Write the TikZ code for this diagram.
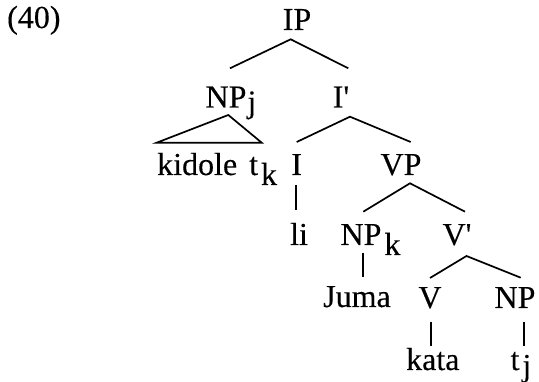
\documentclass[tikz,border=0pt]{standalone}
\usepackage{fontspec}
\setmainfont{Liberation Serif}[FakeBold=0.25]
% same face without TeX ligature mapping, so that ' stays a straight prime
\newfontfamily\primefont{Liberation Serif}[FakeBold=0.25]
\newcommand\prm{{\primefont'}}
% lowered index set after a label without widening it
\newcommand\idx[3]{\rlap{\hspace{#1}\raisebox{-#2}{#3}}}
\begin{document}
\begin{tikzpicture}[x=1pt,y=1pt,
  lbl/.style={anchor=base,inner sep=0pt,font=\fontsize{32}{38}\selectfont},
  branch/.style={line width=1.7pt}]
\useasboundingbox (0,0) rectangle (539,382);

% example number
\node[lbl,anchor=base west] (ex) at (7,354) {(40)};

% labels of the tree
\node[lbl] (IP)   at (297,352)   {IP};
\node[lbl] (NPj)  at (226,274.5) {NP\idx{1pt}{5pt}{j}};
\node[lbl] (Ibar) at (341,274.5) {I\prm};
\node[lbl,anchor=base west] (kid) at (157,207) {kidole\hspace{12pt}t\idx{3pt}{10pt}{k}};
\node[lbl] (I)    at (296.7,207) {I};
\node[lbl] (VP)   at (401,207)   {VP};
\node[lbl] (li)   at (299,137)   {li};
\node[lbl] (NPk)  at (361,137)   {NP\idx{3pt}{10pt}{k}};
\node[lbl] (Vbar) at (457,137)   {V\prm};
\node[lbl] (Juma) at (357,75)    {Juma};
\node[lbl] (V)    at (430,74)    {V};
\node[lbl] (NP)   at (515,74)    {NP};
\node[lbl] (kata) at (432.8,12)  {kata};
\node[lbl] (tj)   at (515,12)    {t\idx{3pt}{6pt}{j}};

% branches
\draw[branch] ([shift={(4,39.2)}]NPj.base) -- ([shift={(-6.3,-9.3)}]IP.base)
              -- ([shift={(7.3,39.2)}]Ibar.base);
\draw[branch] ([shift={(-0.3,32.3)}]kid.base west) -- ([shift={(2.3,-7.5)}]NPj.base)
              -- ([shift={(104.7,32.3)}]kid.base west) -- cycle;
\draw[branch] ([shift={(0,33)}]I.base) -- ([shift={(9,-9.2)}]Ibar.base)
              -- ([shift={(9.7,33)}]VP.base);
\draw[branch] ([shift={(-0.7,-10)}]I.base) -- ([shift={(-3,35)}]li.base);
\draw[branch] ([shift={(2.3,33.3)}]NPk.base) -- ([shift={(9,-8.3)}]VP.base)
              -- ([shift={(8,33.3)}]Vbar.base);
\draw[branch] ([shift={(2.3,-8)}]NPk.base) -- ([shift={(6.3,30.3)}]Juma.base);
\draw[branch] ([shift={(0,30)}]V.base) -- ([shift={(9.5,-11)}]Vbar.base)
              -- ([shift={(5.7,30.3)}]NP.base);
\draw[branch] ([shift={(0.7,-13.7)}]V.base) -- ([shift={(-2.1,24.3)}]kata.base);
\draw[branch] ([shift={(9,-13.7)}]NP.base) -- ([shift={(9,24.3)}]tj.base);
\end{tikzpicture}
\end{document}
